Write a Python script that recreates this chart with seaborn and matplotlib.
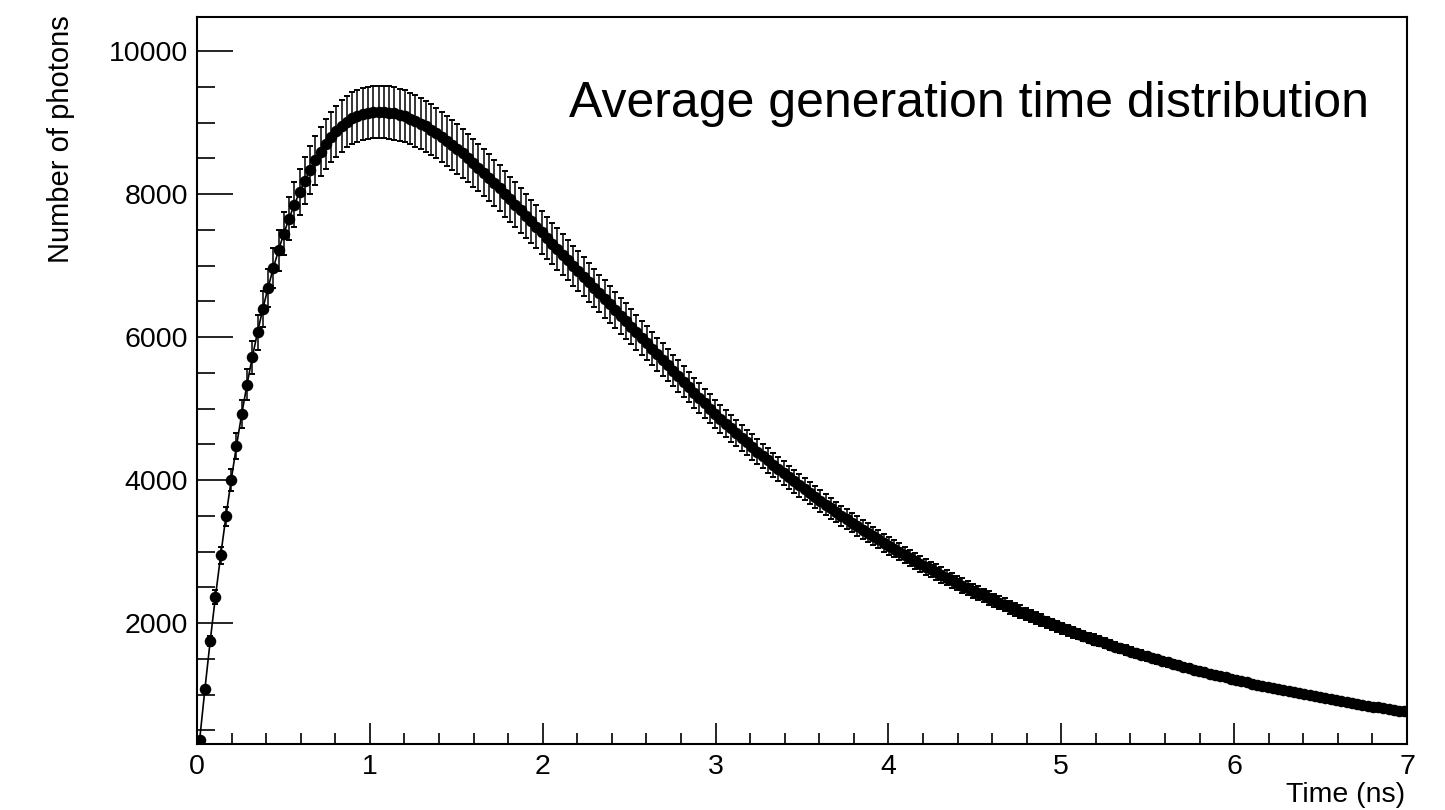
import numpy as np
import pandas as pd
import matplotlib
matplotlib.use("Agg")
import matplotlib.pyplot as plt
import seaborn as sns
from matplotlib.ticker import MultipleLocator

# ---- data ----
n_bins = 230          # time bins between 0 and 7 ns
t_max = 7.0
relative_error = 0.04  # error bars are about 4 % of the bin content

photons = [
    364, 1073, 1744, 2366, 2946, 3490, 4000, 4477, 4921, 5333,
    5714, 6065, 6389, 6688, 6963, 7215, 7446, 7657, 7850, 8027,
    8189, 8337, 8471, 8592, 8700, 8796, 8880, 8952, 9012, 9060,
    9096, 9121, 9137, 9146, 9150, 9148, 9140, 9127, 9108, 9085,
    9056, 9023, 8986, 8945, 8900, 8852, 8801, 8747, 8690, 8631,
    8569, 8505, 8439, 8371, 8300, 8228, 8155, 8080, 8004, 7927,
    7850, 7772, 7695, 7617, 7540, 7462, 7385, 7307, 7230, 7152,
    7075, 6997, 6920, 6842, 6765, 6687, 6610, 6532, 6455, 6377,
    6300, 6222, 6145, 6068, 5991, 5914, 5837, 5760, 5683, 5606,
    5530, 5454, 5375, 5298, 5221, 5145, 5071, 4999, 4929, 4859,
    4790, 4723, 4656, 4590, 4525, 4461, 4398, 4336, 4275, 4214,
    4155, 4096, 4038, 3981, 3925, 3869, 3815, 3761, 3708, 3655,
    3604, 3553, 3502, 3453, 3404, 3356, 3308, 3262, 3216, 3170,
    3125, 3081, 3038, 2995, 2952, 2911, 2870, 2829, 2789, 2750,
    2711, 2672, 2635, 2597, 2561, 2524, 2489, 2454, 2419, 2385,
    2351, 2318, 2285, 2253, 2221, 2190, 2159, 2128, 2098, 2068,
    2039, 2010, 1982, 1954, 1926, 1899, 1872, 1846, 1820, 1794,
    1769, 1744, 1719, 1695, 1671, 1647, 1624, 1601, 1578, 1556,
    1534, 1512, 1491, 1470, 1449, 1428, 1408, 1388, 1369, 1349,
    1330, 1312, 1293, 1275, 1257, 1239, 1221, 1204, 1187, 1170,
    1154, 1138, 1121, 1106, 1090, 1075, 1059, 1044, 1030, 1015,
    1001, 987, 973, 959, 945, 932, 919, 906, 893, 880,
    868, 856, 844, 832, 820, 808, 797, 786, 775, 764,
]

x_ticks = [0, 1, 2, 3, 4, 5, 6, 7]
y_ticks = [2000, 4000, 6000, 8000, 10000]

title_text = "Average generation time distribution"
x_title = "Time (ns)"
y_title = "Number of photons"

assert len(photons) == n_bins

time_ns = (np.arange(n_bins) + 0.5) * t_max / n_bins
df = pd.DataFrame({"time": time_ns, "photons": np.array(photons, dtype=float)})
df["err"] = df["photons"] * relative_error

# ---- style ----
sns.set_style("ticks")
plt.rcParams["font.family"] = ["Liberation Sans", "DejaVu Sans"]
plt.rcParams["text.color"] = "black"
plt.rcParams["axes.labelcolor"] = "black"
plt.rcParams["xtick.color"] = "black"
plt.rcParams["ytick.color"] = "black"
plt.rcParams["axes.edgecolor"] = "black"

fig = plt.figure(figsize=(14.45, 8.10), dpi=100)
ax = fig.add_axes([197 / 1445, 1 - 744 / 810, 1210 / 1445, 727 / 810])

ax.errorbar(df["time"], df["photons"], yerr=df["err"], fmt="none",
            ecolor="black", elinewidth=1.1, capsize=2.1, capthick=1.4, zorder=2)
sns.lineplot(data=df, x="time", y="photons", ax=ax, color="black",
             linewidth=1.2, marker="o", markersize=8.3, markeredgewidth=0,
             estimator=None, sort=False, zorder=3)

ax.set_xlim(0, 7)
ax.set_ylim(308, 10476)
ax.set_xticks(x_ticks)
ax.set_xticklabels([str(v) for v in x_ticks])
ax.set_yticks(y_ticks)
ax.set_yticklabels([str(v) for v in y_ticks])
ax.xaxis.set_minor_locator(MultipleLocator(0.2))
ax.yaxis.set_minor_locator(MultipleLocator(500))

ax.tick_params(axis="x", which="major", direction="in", length=15, width=1.2,
               labelsize=20.5, pad=7, top=False, color="black", labelcolor="black")
ax.tick_params(axis="x", which="minor", direction="in", length=8, width=1.2,
               top=False, color="black")
ax.tick_params(axis="y", which="major", direction="in", length=26, width=1.2,
               labelsize=20.5, pad=6.5, right=False, color="black", labelcolor="black")
ax.tick_params(axis="y", which="minor", direction="in", length=13, width=1.2,
               right=False, color="black")

for side in ["left", "bottom", "top", "right"]:
    ax.spines[side].set_visible(True)
    ax.spines[side].set_color("black")
    ax.spines[side].set_linewidth(1.5)

ax.set_xlabel("")
ax.set_ylabel("")

fig.text(1405 / 1445, 1 - 802 / 810, x_title, ha="right", va="baseline",
         fontsize=20.5, color="black")
fig.text(61 / 1445, 1 - 15 / 810, y_title, ha="center", va="top", rotation=90,
         fontsize=21, color="black")
fig.text(569 / 1445, 1 - 117 / 810, title_text, ha="left", va="baseline",
         fontsize=36, color="black")

fig.savefig("out.png", dpi=100)
